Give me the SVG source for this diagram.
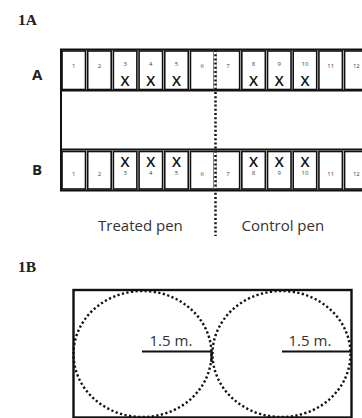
<svg xmlns="http://www.w3.org/2000/svg" width="362" height="418" viewBox="0 0 362 418">
<style>
.frame{fill:none;stroke:#111;stroke-width:2}
.cell{fill:#fff;stroke:#111;stroke-width:1.6}
.num{font-family:"Open Sans","Liberation Sans",sans-serif;font-size:6px;fill:#444;text-anchor:middle}
.x{font-family:"Open Sans","Liberation Sans",sans-serif;font-size:14.5px;font-weight:600;fill:#111;text-anchor:middle}
.dot{fill:none;stroke:#111;stroke-width:2.5;stroke-dasharray:2 2.2}
.circ{fill:none;stroke:#111;stroke-width:2.4;stroke-dasharray:2.2 2.4}
.lbl{font-family:"Open Sans","Liberation Sans",sans-serif;font-size:15px;fill:#333}
.head{font-family:"Liberation Serif","DejaVu Serif",serif;font-size:15.5px;font-weight:bold;fill:#222}
.row{font-family:"Open Sans","Liberation Sans",sans-serif;font-size:15px;font-weight:bold;fill:#222}
.rad{fill:none;stroke:#111;stroke-width:2.2}
</style>
<text class="head" x="18" y="25">1A</text>
<text class="row" x="32" y="80">A</text>
<text class="row" x="32" y="175">B</text>
<rect class="frame" x="61" y="49.5" width="400" height="141"/>
<line class="frame" x1="61" y1="90.5" x2="362" y2="90.5"/>
<line class="frame" x1="61" y1="149.5" x2="362" y2="149.5"/>
<g id="rowA">
<g id="a1"><rect class="cell" x="62" y="51" width="23.5" height="38.5"/><text class="num" x="73.75" y="68">1</text></g>
<g id="a2"><rect class="cell" x="87.69" y="51" width="23.5" height="38.5"/><text class="num" x="99.44" y="68">2</text></g>
<g id="a3"><rect class="cell" x="113.38" y="51" width="23.5" height="38.5"/><text class="num" x="125.13" y="66">3</text><text class="x" x="125.13" y="86">X</text></g>
<g id="a4"><rect class="cell" x="139.07" y="51" width="23.5" height="38.5"/><text class="num" x="150.82" y="66">4</text><text class="x" x="150.82" y="86">X</text></g>
<g id="a5"><rect class="cell" x="164.76" y="51" width="23.5" height="38.5"/><text class="num" x="176.51" y="66">5</text><text class="x" x="176.51" y="86">X</text></g>
<g id="a6"><rect class="cell" x="190.45" y="51" width="23.5" height="38.5"/><text class="num" x="202.2" y="68">6</text></g>
<g id="a7"><rect class="cell" x="216.14" y="51" width="23.5" height="38.5"/><text class="num" x="227.89" y="68">7</text></g>
<g id="a8"><rect class="cell" x="241.83" y="51" width="23.5" height="38.5"/><text class="num" x="253.58" y="66">8</text><text class="x" x="253.58" y="86">X</text></g>
<g id="a9"><rect class="cell" x="267.52" y="51" width="23.5" height="38.5"/><text class="num" x="279.27" y="66">9</text><text class="x" x="279.27" y="86">X</text></g>
<g id="a10"><rect class="cell" x="293.21" y="51" width="23.5" height="38.5"/><text class="num" x="304.96" y="66">10</text><text class="x" x="304.96" y="86">X</text></g>
<g id="a11"><rect class="cell" x="318.9" y="51" width="23.5" height="38.5"/><text class="num" x="330.65" y="68">11</text></g>
<g id="a12"><rect class="cell" x="344.59" y="51" width="23.5" height="38.5"/><text class="num" x="356.34" y="68">12</text></g>
</g>
<g id="rowB">
<g id="b1"><rect class="cell" x="62" y="151.5" width="23.5" height="37.5"/><text class="num" x="73.75" y="176">1</text></g>
<g id="b2"><rect class="cell" x="87.69" y="151.5" width="23.5" height="37.5"/><text class="num" x="99.44" y="176">2</text></g>
<g id="b3"><rect class="cell" x="113.38" y="151.5" width="23.5" height="37.5"/><text class="x" x="125.13" y="166.5">X</text><text class="num" x="125.13" y="175">3</text></g>
<g id="b4"><rect class="cell" x="139.07" y="151.5" width="23.5" height="37.5"/><text class="x" x="150.82" y="166.5">X</text><text class="num" x="150.82" y="175">4</text></g>
<g id="b5"><rect class="cell" x="164.76" y="151.5" width="23.5" height="37.5"/><text class="x" x="176.51" y="166.5">X</text><text class="num" x="176.51" y="175">5</text></g>
<g id="b6"><rect class="cell" x="190.45" y="151.5" width="23.5" height="37.5"/><text class="num" x="202.2" y="176">6</text></g>
<g id="b7"><rect class="cell" x="216.14" y="151.5" width="23.5" height="37.5"/><text class="num" x="227.89" y="176">7</text></g>
<g id="b8"><rect class="cell" x="241.83" y="151.5" width="23.5" height="37.5"/><text class="x" x="253.58" y="166.5">X</text><text class="num" x="253.58" y="175">8</text></g>
<g id="b9"><rect class="cell" x="267.52" y="151.5" width="23.5" height="37.5"/><text class="x" x="279.27" y="166.5">X</text><text class="num" x="279.27" y="175">9</text></g>
<g id="b10"><rect class="cell" x="293.21" y="151.5" width="23.5" height="37.5"/><text class="x" x="304.96" y="166.5">X</text><text class="num" x="304.96" y="175">10</text></g>
<g id="b11"><rect class="cell" x="318.9" y="151.5" width="23.5" height="37.5"/><text class="num" x="330.65" y="176">11</text></g>
<g id="b12"><rect class="cell" x="344.59" y="151.5" width="23.5" height="37.5"/><text class="num" x="356.34" y="176">12</text></g>
</g>
<g id="divider">
<line x1="215.2" y1="51.5" x2="215.2" y2="89" stroke="#fff" stroke-width="3.2"/>
<line x1="215.2" y1="152" x2="215.2" y2="188.5" stroke="#fff" stroke-width="3.2"/>
<line class="dot" x1="215.5" y1="50" x2="215.5" y2="236"/>
</g>
<text class="lbl" x="98" y="231">Treated pen</text>
<text class="lbl" x="241.5" y="231">Control pen</text>
<text class="head" x="18" y="272">1B</text>
<g id="pen">
<rect x="73.5" y="290" width="278" height="127.5" fill="none" stroke="#111" stroke-width="2.4"/>
<ellipse class="circ" cx="142.5" cy="354" rx="69" ry="63"/>
<ellipse class="circ" cx="281.5" cy="354" rx="69" ry="63"/>
<path class="rad" d="M142 351.5 H211.5 V362"/>
<path class="rad" d="M282 351.5 H351"/>
<text class="lbl" x="149.5" y="346">1.5 m.</text>
<text class="lbl" x="288.5" y="346">1.5 m.</text>
</g>
</svg>
